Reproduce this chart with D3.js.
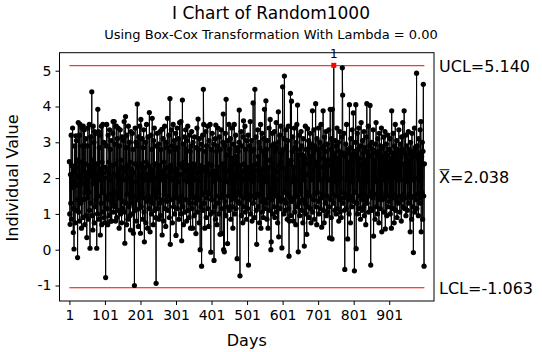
<!DOCTYPE html>
<html><head><meta charset="utf-8">
<script src="https://cdn.jsdelivr.net/npm/d3@7"></script>
<style>
html,body{margin:0;padding:0;background:#fff;}
text{font-family:"DejaVu Sans",Verdana,sans-serif;fill:#000;}
</style></head>
<body>
<svg id="chart" width="542" height="352"></svg>
<script>
const title = "I Chart of Random1000";
const subtitle = "Using Box-Cox Transformation With Lambda = 0.00";
const xLabel = "Days";
const yLabel = "Individual Value";
const xTicks = [1,101,201,301,401,501,601,701,801,901];
const yTicks = [-1,0,1,2,3,4,5];
const UCL = 5.140, CL = 2.038, LCL = -1.063;
const outOfControl = [745];
const values = [
2.46,1.0,0.71,2.1,1.3,3.2,0.85,2.35,1.74,3.4,1.15,0.48,2.2,0.02,1.9,2.9,0.75,2.3,3.18,1.1,3.05,1.8,2.5,-0.22,1.4,
3.55,1.05,2.05,3.2,0.8,3.5,2.0,1.3,2.45,0.6,3.4,1.85,2.9,0.9,3.45,2.2,1.4,3.35,0.7,2.4,1.6,3.1,0.95,2.15,0.34,
2.9,1.45,3.4,0.85,2.35,1.6,3.5,1.1,0.04,2.2,3.15,1.3,2.05,4.41,0.95,2.5,0.55,3.45,1.85,3.0,0.75,3.3,2.0,1.2,3.25,
1.4,2.4,0.04,2.1,1.0,3.92,1.5,3.3,0.85,2.85,1.95,3.2,0.41,2.25,1.3,3.45,0.7,2.45,1.6,3.5,1.05,2.15,3.0,0.9,2.0,
0.76,2.3,-0.78,1.5,2.9,3.5,1.15,2.2,0.7,3.2,1.4,2.45,0.95,3.35,1.95,2.8,0.8,3.05,1.55,0.8,2.35,1.3,3.25,3.58,1.05,
2.1,3.58,1.2,2.95,1.6,0.8,2.4,3.45,0.9,2.05,3.1,1.1,3.4,1.45,2.25,0.6,2.9,1.55,3.35,1.0,2.5,2.0,0.75,3.15,1.35,
2.3,1.15,3.05,1.95,3.58,1.05,0.18,2.2,3.72,1.3,2.85,0.7,3.2,1.55,2.35,0.85,3.45,2.0,1.2,3.0,0.95,2.45,0.55,3.3,1.45,
2.25,1.3,3.25,1.0,2.8,0.46,2.15,1.5,-1.0,2.4,3.4,1.1,3.0,1.9,0.8,2.9,4.07,1.4,2.3,0.65,3.15,2.05,1.15,3.45,1.55,
0.46,3.64,1.2,2.4,1.6,3.1,0.85,2.85,1.45,3.35,1.05,0.22,2.3,1.95,3.0,0.75,2.45,3.5,1.35,2.1,0.6,3.15,1.5,2.35,1.15,
3.83,1.4,0.5,2.25,1.95,3.2,1.0,2.8,3.67,1.3,2.15,0.7,3.05,1.55,3.4,1.1,2.4,2.0,0.9,-0.94,2.9,1.45,3.25,1.15,2.3,
1.6,2.95,0.85,2.35,1.3,3.3,0.95,2.8,1.95,2.2,3.36,0.41,2.1,1.4,3.1,0.8,2.45,1.55,3.45,1.15,2.3,0.65,3.0,2.05,1.35,
2.85,3.67,1.1,2.3,1.5,3.2,0.9,2.75,4.22,0.15,2.35,1.4,3.35,1.95,2.9,0.75,2.2,3.5,1.2,2.0,3.05,1.0,2.8,1.55,3.25,
0.4,2.25,1.45,3.4,1.15,2.85,1.9,3.1,0.85,2.4,3.55,1.35,2.1,1.0,3.58,1.5,0.25,2.3,4.18,1.2,2.95,0.7,2.45,1.95,3.15,
1.05,2.2,3.35,1.4,2.8,0.8,3.05,1.9,3.45,1.1,2.35,2.0,0.9,3.2,1.3,2.75,0.6,2.9,1.55,3.3,1.15,2.25,0.6,3.0,1.45,
2.4,0.95,3.15,1.95,2.3,1.3,0.45,2.85,1.5,3.4,1.05,2.15,3.65,1.4,2.8,0.75,3.1,1.95,0.0,2.35,1.2,2.95,-0.46,2.2,1.55,
3.2,1.1,4.48,3.5,1.3,2.3,0.6,2.75,1.6,3.3,0.9,2.9,1.45,2.2,3.45,1.15,2.4,0.65,3.05,1.55,2.1,3.5,1.0,-0.07,2.8,
1.4,2.35,3.25,1.05,2.2,1.9,2.95,-0.3,2.1,1.2,3.1,0.85,3.48,1.5,2.75,0.7,2.9,2.0,3.4,1.3,2.3,1.0,3.15,1.95,0.43,
2.8,1.45,3.35,1.15,0.45,2.4,1.55,3.0,3.79,0.0,2.25,-0.06,2.9,1.35,3.25,0.95,4.2,1.9,2.65,1.2,0.17,3.05,1.5,2.2,3.5,
1.1,2.8,1.95,3.1,0.85,2.35,1.4,3.4,1.2,2.55,0.6,2.95,1.55,2.4,3.5,1.0,2.1,1.45,3.2,1.15,2.6,2.0,-0.25,2.85,1.35,
2.75,1.6,3.0,3.9,1.3,-0.73,2.35,1.5,3.3,0.95,2.9,1.95,2.2,0.75,3.15,3.6,1.2,2.4,1.45,3.45,1.05,2.8,2.05,0.85,3.05,
1.55,2.3,1.15,3.2,-0.43,2.15,1.4,2.9,1.95,3.58,1.0,2.75,1.5,3.05,0.8,2.35,1.9,4.1,1.3,2.8,2.05,0.9,4.48,1.45,2.2,
3.15,1.1,0.15,2.4,1.55,3.35,1.2,2.6,1.95,3.0,0.75,2.85,1.5,3.5,0.6,2.25,1.35,3.25,1.05,2.75,2.0,0.9,3.1,1.4,3.92,
1.15,2.65,1.9,4.16,1.3,2.8,0.85,3.05,1.95,0.6,2.3,1.45,3.4,1.1,2.5,3.64,1.55,0.0,0.22,2.9,1.4,3.25,1.0,2.4,1.6,
2.95,1.2,3.3,0.9,2.75,1.5,2.2,3.55,1.05,2.85,1.95,0.75,3.0,3.85,0.36,2.35,1.45,3.2,1.15,2.45,3.45,1.35,2.7,0.05,2.3,
4.55,1.4,2.8,1.0,3.1,4.85,1.6,2.25,1.1,3.35,1.3,2.9,2.0,0.85,3.05,1.55,3.45,1.15,-0.18,0.8,2.4,1.45,4.37,0.95,2.5,
4.15,1.35,2.75,1.9,3.15,0.8,2.3,1.45,3.4,1.05,2.85,2.0,0.7,3.0,1.5,3.5,1.2,4.04,1.95,-0.06,2.65,1.3,3.2,0.95,2.8,
1.55,2.2,3.3,1.1,2.9,1.4,2.65,0.75,3.1,1.95,2.45,0.1,2.55,1.3,3.45,1.0,2.8,1.6,0.43,2.4,3.38,1.2,2.1,3.05,0.9,
2.85,1.5,3.25,1.15,2.6,0.75,2.95,1.95,2.2,3.88,1.05,2.75,1.4,3.35,0.85,2.9,1.55,2.35,4.08,1.2,2.45,0.7,3.1,1.6,2.8,
1.35,3.4,1.0,2.7,1.95,3.0,1.15,2.55,3.5,1.45,0.63,2.85,1.55,2.3,3.88,1.1,2.9,0.75,3.15,2.0,1.3,2.75,3.3,0.95,2.5,
1.5,2.95,1.05,2.35,1.95,3.35,1.2,0.33,2.5,3.92,1.4,2.8,0.9,3.1,0.3,3.92,1.55,2.7,1.3,5.15,1.9,2.6,1.1,3.05,2.05,
1.0,2.9,1.5,3.4,1.15,2.55,1.95,3.0,0.8,2.75,1.4,3.3,1.05,2.65,2.0,0.9,3.15,1.6,5.08,4.32,1.3,2.7,1.45,3.25,1.1,
-0.55,2.6,1.55,2.95,1.15,3.5,1.95,2.7,0.3,2.8,1.4,2.45,1.0,4.05,1.5,2.85,0.75,3.1,1.9,2.65,1.2,3.35,1.45,2.5,3.82,
1.35,2.75,-0.59,2.6,1.6,3.0,4.05,0.03,2.7,1.3,3.25,1.0,2.8,1.95,3.4,1.15,2.55,1.5,2.9,0.85,2.35,3.55,1.4,2.4,1.1,
3.05,1.55,2.7,1.2,3.3,0.95,2.85,1.95,2.5,0.7,3.15,1.4,4.08,1.3,2.75,1.9,3.45,1.05,2.6,1.5,2.9,4.03,1.15,-0.43,2.65,
1.6,3.0,1.1,2.8,1.45,3.35,0.38,2.7,1.55,2.5,0.85,2.95,1.9,3.55,1.2,2.65,2.0,1.0,3.1,1.4,2.75,0.75,3.25,1.5,2.55,
1.15,2.9,1.55,3.4,0.5,2.6,1.4,2.85,1.95,3.15,1.05,2.5,1.45,3.3,0.58,2.7,1.6,2.95,0.95,2.65,1.5,3.2,1.2,2.45,2.0,
2.8,1.35,3.1,1.0,2.55,1.9,0.6,3.88,1.45,2.7,1.15,3.25,1.55,2.6,0.75,2.9,2.0,3.5,1.1,2.65,1.4,3.05,0.9,2.8,1.95,
2.5,1.3,3.35,1.5,2.75,1.05,2.95,1.95,2.6,0.8,3.15,1.4,2.8,3.55,1.2,2.4,1.55,3.88,1.15,2.7,1.45,3.2,0.95,2.55,2.0,
2.9,1.1,2.65,1.9,3.3,1.3,2.8,1.55,2.5,0.5,3.0,1.45,2.7,0.85,3.25,1.95,2.6,1.2,-0.08,2.75,1.5,3.4,1.05,2.85,2.0,
1.4,2.65,4.93,1.15,2.9,1.55,2.55,0.95,3.1,1.95,2.7,1.3,3.35,1.45,3.58,0.5,2.6,1.6,3.0,0.85,2.75,4.62,1.5,-0.46,2.4
];

const data = values.map((v,i)=>({day:i+1, v}));
const svg = d3.select("#chart");
svg.append("rect").attr("width",542).attr("height",352).attr("fill","#fff");

const frame = {x0:59.5, x1:434, y0:52.7, y1:301};
const x = d3.scaleLinear().domain([1,1000]).range([69.4,424.4]);
const y = d3.scaleLinear().domain([-1,5]).range([285.5,70.7]);

// frame
svg.append("rect").attr("x",frame.x0).attr("y",frame.y0)
  .attr("width",frame.x1-frame.x0).attr("height",frame.y1-frame.y0)
  .attr("fill","none").attr("stroke","#000").attr("stroke-width",1);

// axes
const yAxis = svg.append("g").attr("transform",`translate(${frame.x0},0)`)
  .call(d3.axisLeft(y).tickValues(yTicks).tickSize(4).tickPadding(4).tickFormat(d=>String(d)));
yAxis.select(".domain").remove();
yAxis.selectAll("text").style("font-size","14px").style("font-family","DejaVu Sans");
yAxis.selectAll("line").attr("stroke","#000");

const xAxis = svg.append("g").attr("transform",`translate(0,${frame.y1})`)
  .call(d3.axisBottom(x).tickValues(xTicks).tickSize(4).tickPadding(5).tickFormat(d=>String(d)));
xAxis.select(".domain").remove();
xAxis.selectAll("text").style("font-size","14px").style("font-family","DejaVu Sans");
xAxis.selectAll("line").attr("stroke","#000");

// control lines
svg.append("line").attr("x1",x(1)).attr("x2",x(1000)).attr("y1",y(CL)).attr("y2",y(CL))
  .attr("stroke","#00a000").attr("stroke-width",1);
[UCL,LCL].forEach(v=>{
  svg.append("line").attr("x1",x(1)).attr("x2",x(1000)).attr("y1",y(v)).attr("y2",y(v))
    .attr("stroke","#ff0000").attr("stroke-width",1);
});

// data line
svg.append("path").datum(data)
  .attr("d", d3.line().x(d=>x(d.day)).y(d=>y(d.v)))
  .attr("fill","none").attr("stroke","#000").attr("stroke-width",1);

svg.append("g").selectAll("circle").data(data.filter(d=>!outOfControl.includes(d.day))).join("circle")
  .attr("cx",d=>x(d.day)).attr("cy",d=>y(d.v)).attr("r",2.6).attr("fill","#000");

const ooc = data.filter(d=>outOfControl.includes(d.day));
svg.append("g").selectAll("rect").data(ooc).join("rect")
  .attr("x",d=>x(d.day)-2.5).attr("y",d=>y(d.v)-2.5).attr("width",5).attr("height",5).attr("fill","#ff0000");
svg.append("g").selectAll("text").data(ooc).join("text")
  .attr("x",d=>x(d.day)).attr("y",d=>y(d.v)-7).attr("text-anchor","middle")
  .style("font-size","12px").text("1");

// right labels
const lab = svg.append("g").style("font-size","16px");
lab.append("text").attr("x",439).attr("y",y(UCL)+6).text("UCL=5.140");
const xb = lab.append("text").attr("x",439).attr("y",y(CL)+6);
xb.append("tspan").text("X");
xb.append("tspan").text("=2.038");
const xw = xb.select("tspan").node().getComputedTextLength();
lab.append("line").attr("x1",439.5).attr("x2",439+xw-0.5).attr("y1",y(CL)-7).attr("y2",y(CL)-7)
  .attr("stroke","#000").attr("stroke-width",1);
lab.append("text").attr("x",439).attr("y",y(LCL)+6).text("LCL=-1.063");

// titles
svg.append("text").attr("x",271).attr("y",19).attr("text-anchor","middle").style("font-size","17px").text(title);
svg.append("text").attr("x",271).attr("y",38.5).attr("text-anchor","middle").style("font-size","13px").text(subtitle);
svg.append("text").attr("x",(frame.x0+frame.x1)/2).attr("y",346).attr("text-anchor","middle").style("font-size","16px").text(xLabel);
svg.append("text").attr("transform",`translate(18,178) rotate(-90)`).attr("text-anchor","middle").style("font-size","16px").text(yLabel);
</script>
</body></html>
